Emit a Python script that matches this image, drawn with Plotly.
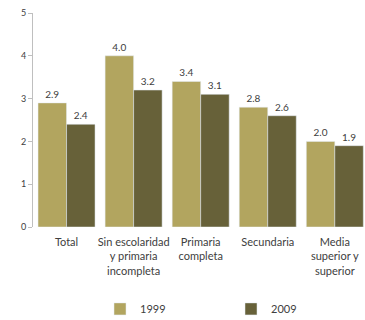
import plotly.graph_objects as go

categories = ["Total", "Sin escolaridad<br>y primaria<br>incompleta", "Primaria<br>completa",
              "Secundaria", "Media<br>superior y<br>superior"]
v1999 = [2.9, 4.0, 3.4, 2.8, 2.0]
v2009 = [2.4, 3.2, 3.1, 2.6, 1.9]
labels1999 = ["2.9", "4.0", "3.4", "2.8", "2.0"]
labels2009 = ["2.4", "3.2", "3.1", "2.6", "1.9"]
yticks = [0, 1, 2, 3, 4, 5]

FONT = "Lato"
fig = go.Figure()
fig.add_trace(go.Bar(x=categories, y=v1999, name="1999", marker_color="#b2a55f",
                     text=labels1999, textposition="outside", cliponaxis=False,
                     textfont=dict(size=10, color="#404040", family=FONT)))
fig.add_trace(go.Bar(x=categories, y=v2009, name="2009", marker_color="#676139",
                     text=labels2009, textposition="outside", cliponaxis=False,
                     textfont=dict(size=10, color="#404040", family=FONT)))
fig.update_layout(
    width=365, height=320, barmode="group", bargap=0.15, bargroupgap=0,
    margin=dict(l=33, r=0, t=13, b=93, autoexpand=False),
    plot_bgcolor="white", paper_bgcolor="white",
    font=dict(family=FONT, size=10, color="#404040"),
    showlegend=True,
    legend=dict(orientation="h", xref="container", yref="container",
                x=0.274, xanchor="left", y=0.08, yanchor="top",
                entrywidth=86, entrywidthmode="pixels", font=dict(size=11, color="#404040")),
    xaxis=dict(range=[-0.5, 4.45], showline=False, ticks="", tickfont=dict(size=11),
               ticklabelstandoff=7),
    yaxis=dict(range=[0, 5], tickvals=yticks, showgrid=False, showline=True,
               linecolor="#bfbfbf", linewidth=1, ticks="outside", ticklen=4,
               tickcolor="#bfbfbf", tickfont=dict(size=9), zeroline=False),
)
fig.write_html("out.html")
